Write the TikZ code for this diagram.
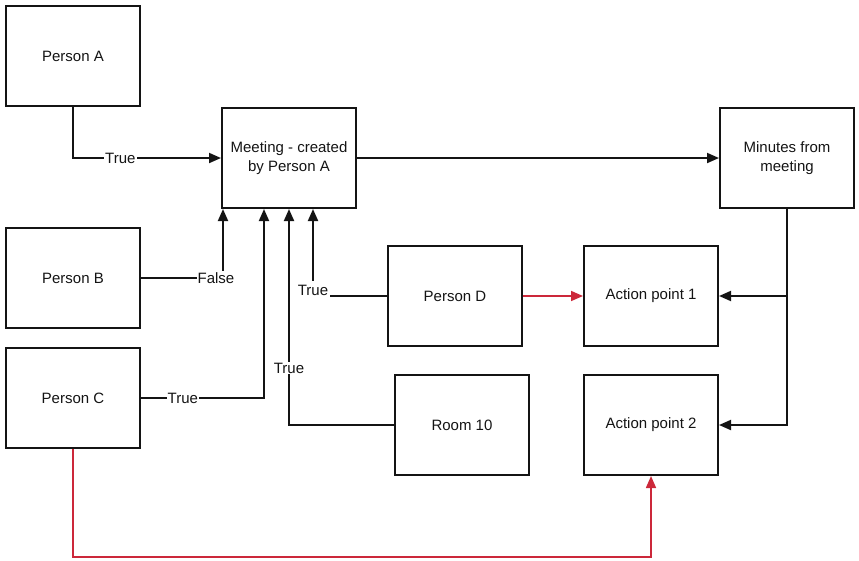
\documentclass[tikz,border=0pt]{standalone}
\usepackage{fontspec}
\setmainfont{Liberation Sans}
\usetikzlibrary{arrows.meta}
\definecolor{linkred}{RGB}{204,40,58}
\definecolor{ink}{RGB}{20,20,20}
\begin{document}
\begin{tikzpicture}[x=1pt,y=-1pt,
  box/.style={draw=ink,line width=2pt,minimum width=134pt,minimum height=100pt,inner sep=2pt,
    align=center,font=\fontsize{15}{19.5}\selectfont,text=ink},
  arr/.style={draw=ink,line width=1.9pt,-{Triangle[length=12pt,width=10pt]}},
  redarr/.style={draw=linkred,line width=1.6pt,-{Triangle[length=12pt,width=10pt]}},
  lbl/.style={fill=white,inner sep=1pt,font=\fontsize{15}{17}\selectfont,text=ink}]
\useasboundingbox (0,0) rectangle (859,560);
\node[box] (pa) at (73,56) {Person A};
\node[box] (pb) at (73,278) {Person B};
\node[box] (pc) at (73,398) {Person C};
\node[box] (mt) at (289,158) {Meeting - created\\by Person A};
\node[box] (mn) at (787,158) {Minutes from\\meeting};
\node[box] (pd) at (455,296) {Person D};
\node[box] (r10) at (462,425) {Room 10};
\node[box] (ap1) at (651,296) {Action point 1};
\node[box] (ap2) at (651,425) {Action point 2};
\coordinate (bot) at (0,557);
% connectors into meeting
\draw[arr] (pa.south) |- node[lbl,pos=0.66]{True} (mt.west);
\draw[arr] (pb.east) -| node[lbl,pos=0.5,xshift=-7pt]{False} ([xshift=2pt]mt.south west);
\draw[arr] (pc.east) -| node[lbl,pos=0.17]{True} ([xshift=43pt]mt.south west);
\draw[arr] (r10.west) -| node[lbl,pos=0.632]{True} (mt.south);
\draw[arr] (pd.west) -| node[lbl,pos=0.5,yshift=6pt,inner ysep=4pt,inner xsep=1.5pt]{True} ([xshift=24pt]mt.south);
% meeting to minutes
\draw[arr] (mt.east) -- (mn.west);
% minutes to action points
\draw[arr] (mn.south) |- (ap2.east);
\draw[arr] (mn.south |- ap1.east) -- (ap1.east);
% red connectors
\draw[redarr] (pd.east) -- (ap1.west);
\draw[redarr] (pc.south) |- (bot -| ap2.south) -- (ap2.south);
\end{tikzpicture}
\end{document}
